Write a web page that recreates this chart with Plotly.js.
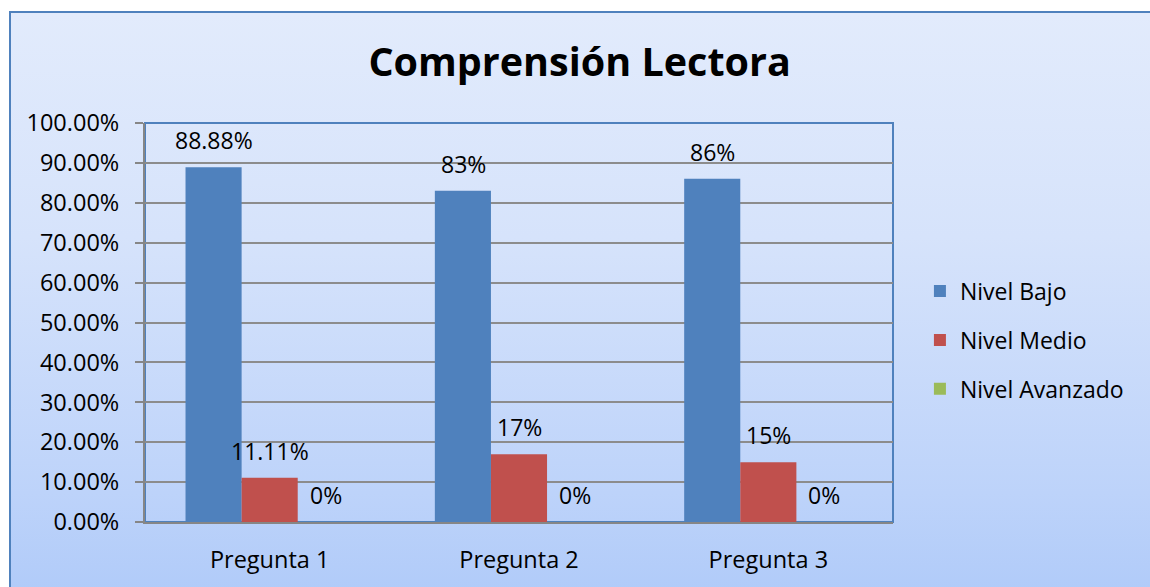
<!DOCTYPE html>
<html>
<head>
<meta charset="utf-8">
<script src="https://cdn.plot.ly/plotly-3.0.1.min.js"></script>
<style>
  html, body { margin: 0; padding: 0; background: #ffffff; overflow: hidden; }
  #frame {
    position: absolute; left: 9px; top: 11px; width: 1200px; height: 640px;
    border-left: 2px solid #4F81BD; border-top: 2px solid #4F81BD;
    background: linear-gradient(to bottom, #E2EBFC 0%, #D6E3FB 35%, #BDD3FA 75%, #A9C6F8 100%);
  }
  #chart { position: absolute; left: 0; top: 0; width: 1150px; height: 587px; }
</style>
</head>
<body>
<div id="frame"></div>
<div id="chart"></div>
<script>
const categories = ["Pregunta 1", "Pregunta 2", "Pregunta 3"];
const seriesNames = ["Nivel Bajo", "Nivel Medio", "Nivel Avanzado"];
const nivelBajo = [0.8888, 0.83, 0.86];
const nivelMedio = [0.1111, 0.17, 0.15];
const nivelAvanzado = [0, 0, 0];
const labelsBajo = ["88.88%", "83%", "86%"];
const labelsMedio = ["11.11%", "17%", "15%"];
const labelsAvanzado = ["0%", "0%", "0%"];
const yTickVals = [0, 0.1, 0.2, 0.3, 0.4, 0.5, 0.6, 0.7, 0.8, 0.9, 1.0];

const colors = ["#4F81BD", "#C0504D", "#9BBB59"];
const allValues = [nivelBajo, nivelMedio, nivelAvanzado];
const allLabels = [labelsBajo, labelsMedio, labelsAvanzado];
const shifts = [-56, 0, 56];
const font = "'Open Sans', 'Noto Sans', sans-serif";

const traces = allValues.map((vals, i) => ({
  type: "bar",
  name: seriesNames[i],
  legendgroup: "g" + i,
  x: categories,
  y: vals,
  marker: { color: colors[i], line: { width: 0 } },
  hoverinfo: "none"
}));

const annotations = [];
allValues.forEach((vals, i) => {
  vals.forEach((v, j) => {
    annotations.push({
      x: categories[j], y: v, xref: "x", yref: "y",
      text: allLabels[i][j], showarrow: false,
      xshift: shifts[i], yshift: 27, yanchor: "middle",
      font: { family: font, size: 23, color: "#000000" }
    });
  });
});

const layout = {
  width: 1150, height: 587,
  paper_bgcolor: "rgba(0,0,0,0)",
  plot_bgcolor: "rgba(0,0,0,0)",
  margin: { l: 145, r: 257, t: 123, b: 65 },
  title: {
    text: "<b>Comprensión Lectora</b>",
    font: { family: font, size: 39.5, color: "#000000" },
    x: 0.504, xref: "container", xanchor: "center",
    y: 0.894, yref: "container", yanchor: "middle"
  },
  barmode: "group",
  bargap: 0.325,
  bargroupgap: 0,
  xaxis: {
    type: "category",
    showgrid: false,
    showline: true, linecolor: "#868686", linewidth: 2,
    ticks: "", tickfont: { family: font, size: 23.5, color: "#000000" },
    ticklabelstandoff: 16
  },
  yaxis: {
    range: [0, 1],
    tickvals: yTickVals,
    tickformat: ".2%",
    showgrid: true, gridcolor: "#8C8C8C", gridwidth: 2,
    showline: true, linecolor: "#868686", linewidth: 2,
    ticks: "outside", ticklen: 8, tickwidth: 2, tickcolor: "#868686",
    tickfont: { family: font, size: 23.5, color: "#000000" },
    ticklabelstandoff: 11,
    zeroline: false
  },
  legend: {
    x: 1.036, xanchor: "left", y: 0.456, yanchor: "middle",
    font: { family: font, size: 23, color: "#000000" },
    bgcolor: "rgba(0,0,0,0)",
    tracegroupgap: 16,
    itemwidth: 30
  },
  shapes: [{
    type: "rect", xref: "paper", yref: "paper", x0: 0, x1: 1, y0: 0, y1: 1,
    line: { color: "#4F81BD", width: 2 }, fillcolor: "rgba(0,0,0,0)", layer: "below"
  }],
  annotations: annotations,
  showlegend: true
};

Plotly.newPlot("chart", traces, layout, { displayModeBar: false, staticPlot: true });
</script>
</body>
</html>
